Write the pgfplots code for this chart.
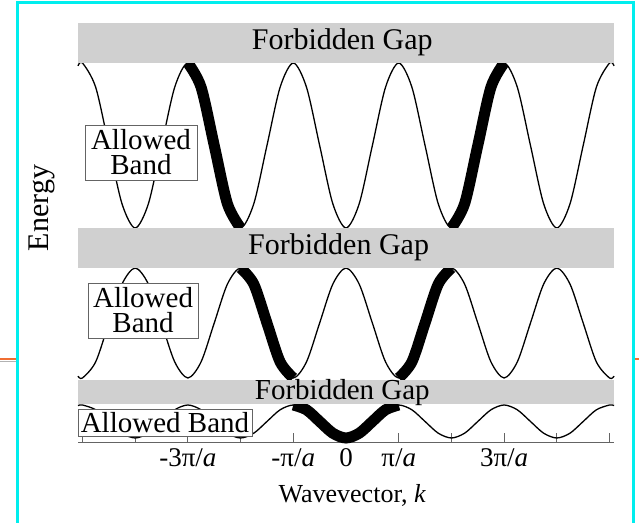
\documentclass[border=0pt]{standalone}
\usepackage{fontspec}
\setmainfont{Liberation Serif}
\usepackage{pgfplots}
\pgfplotsset{compat=1.18}
\definecolor{gapgray}{RGB}{208,208,208}
\definecolor{framecyan}{RGB}{0,238,238}
\definecolor{slideorange}{RGB}{240,110,50}
\definecolor{boxgray}{RGB}{100,100,100}
\begin{document}
\begin{tikzpicture}[x=1bp,y=1bp]
\path[use as bounding box] (0,0) rectangle (639,523);
\draw[framecyan, line width=3bp] (17,-10) -- (17,520) -- (633,520) -- (633,-10);
\draw[slideorange, line width=2bp] (0,164) -- (15.5,164);
\draw[gray!60, line width=1bp] (0,161.5) -- (15.5,161.5);
\draw[slideorange, line width=2bp] (634.5,164) -- (639,164);
\begin{axis}[
  at={(78bp,80bp)}, anchor=south west, scale only axis,
  width=536bp, height=420bp,
  xmin=-5.085, xmax=5.085, ymin=80, ymax=500,
  axis x line*=bottom, axis y line=none,
  clip=false,
  xtick={-5,-4,-3,-2,-1,0,1,2,3,4,5},
  xticklabels={,,-3π/\textit{a},,-π/\textit{a},0,π/\textit{a},,3π/\textit{a},,},
  ytick=\empty,
  tick align=inside,
  major tick length=10bp,
  tick style={boxgray, line width=0.9bp},
  axis line style={boxgray, line width=1bp},
  xticklabel style={font=\fontsize{27bp}{30bp}\selectfont, anchor=base, yshift=-24bp},
]
% thin bands
\addplot[black, line width=1.3bp, smooth] coordinates {(-5.085,457.1) (-5,460) (-4.75,435.8) (-4.5,377.5) (-4.25,319.2) (-4,295) (-3.75,319.2) (-3.5,377.5) (-3.25,435.8) (-3,460) (-2.75,435.8) (-2.5,377.5) (-2.25,319.2) (-2,295) (-1.75,319.2) (-1.5,377.5) (-1.25,435.8) (-1,460) (-0.75,435.8) (-0.5,377.5) (-0.25,319.2) (0,295) (0.25,319.2) (0.5,377.5) (0.75,435.8) (1,460) (1.25,435.8) (1.5,377.5) (1.75,319.2) (2,295) (2.25,319.2) (2.5,377.5) (2.75,435.8) (3,460) (3.25,435.8) (3.5,377.5) (3.75,319.2) (4,295) (4.25,319.2) (4.5,377.5) (4.75,435.8) (5,460) (5.085,457.1)};
\addplot[black, line width=1.3bp, smooth] coordinates {(-5.085,146.9) (-5,145) (-4.75,161.1) (-4.5,200) (-4.25,238.9) (-4,255) (-3.75,238.9) (-3.5,200) (-3.25,161.1) (-3,145) (-2.75,161.1) (-2.5,200) (-2.25,238.9) (-2,255) (-1.75,238.9) (-1.5,200) (-1.25,161.1) (-1,145) (-0.75,161.1) (-0.5,200) (-0.25,238.9) (0,255) (0.25,238.9) (0.5,200) (0.75,161.1) (1,145) (1.25,161.1) (1.5,200) (1.75,238.9) (2,255) (2.25,238.9) (2.5,200) (2.75,161.1) (3,145) (3.25,161.1) (3.5,200) (3.75,238.9) (4,255) (4.25,238.9) (4.5,200) (4.75,161.1) (5,145) (5.085,146.9)};
\addplot[black, line width=1.3bp, smooth] coordinates {(-5.085,117.4) (-5,118) (-4.75,113.2) (-4.5,101.5) (-4.25,89.8) (-4,85) (-3.75,89.8) (-3.5,101.5) (-3.25,113.2) (-3,118) (-2.75,113.2) (-2.5,101.5) (-2.25,89.8) (-2,85) (-1.75,89.8) (-1.5,101.5) (-1.25,113.2) (-1,118) (-0.75,113.2) (-0.5,101.5) (-0.25,89.8) (0,85) (0.25,89.8) (0.5,101.5) (0.75,113.2) (1,118) (1.25,113.2) (1.5,101.5) (1.75,89.8) (2,85) (2.25,89.8) (2.5,101.5) (2.75,113.2) (3,118) (3.25,113.2) (3.5,101.5) (3.75,89.8) (4,85) (4.25,89.8) (4.5,101.5) (4.75,113.2) (5,118) (5.085,117.4)};
% thick extended-zone segments
\addplot[black, line width=11bp, smooth] coordinates {(-3,460) (-2.75,435.8) (-2.5,377.5) (-2.25,319.2) (-2,295)};
\addplot[black, line width=11bp, smooth] coordinates {(2,295) (2.25,319.2) (2.5,377.5) (2.75,435.8) (3,460)};
\addplot[black, line width=11bp, smooth] coordinates {(-2,255) (-1.75,238.9) (-1.5,200) (-1.25,161.1) (-1,145)};
\addplot[black, line width=11bp, smooth] coordinates {(1,145) (1.25,161.1) (1.5,200) (1.75,238.9) (2,255)};
\addplot[black, line width=11bp, smooth] coordinates {(-1,118) (-0.75,113.2) (-0.5,101.5) (-0.25,89.8) (0,85) (0.25,89.8) (0.5,101.5) (0.75,113.2) (1,118)};
% forbidden gaps (drawn over the line ends)
\addplot[fill=gapgray, draw=none] coordinates {(-5.085,460) (5.085,460) (5.085,500) (-5.085,500)} -- cycle;
\addplot[fill=gapgray, draw=none] coordinates {(-5.085,255) (5.085,255) (5.085,295) (-5.085,295)} -- cycle;
\addplot[fill=gapgray, draw=none] coordinates {(-5.085,119) (5.085,119) (5.085,143) (-5.085,143)} -- cycle;
% boxes
\node[draw=boxgray, fill=white, line width=0.9bp, minimum width=112bp, minimum height=55bp, inner sep=0pt, align=center, font=\fontsize{29bp}{25bp}\selectfont] at (axis cs:-3.89,370.5) {Allowed\\Band};
\node[draw=boxgray, fill=white, line width=0.9bp, minimum width=110bp, minimum height=55bp, inner sep=0pt, align=center, font=\fontsize{29bp}{25bp}\selectfont] at (axis cs:-3.85,212.5) {Allowed\\Band};
\node[draw=boxgray, fill=white, line width=0.9bp, minimum width=174bp, minimum height=27bp, inner sep=0pt, font=\fontsize{29bp}{30bp}\selectfont] at (axis cs:-3.435,100.5) {Allowed Band};
% gap labels
\node[anchor=base, font=\fontsize{30bp}{32bp}\selectfont] at (axis cs:-0.07,473) {Forbidden Gap};
\node[anchor=base, font=\fontsize{30bp}{32bp}\selectfont] at (axis cs:-0.14,268) {Forbidden Gap};
\node[anchor=base, font=\fontsize{29bp}{32bp}\selectfont] at (axis cs:-0.07,123) {Forbidden Gap};
% axis labels
\node[rotate=90, font=\fontsize{30bp}{32bp}\selectfont] at (axis cs:-5.77,315) {Energy};
\node[anchor=base, font=\fontsize{26bp}{30bp}\selectfont] at (axis cs:0.12,20) {Wavevector, \textit{k}};
\end{axis}
\end{tikzpicture}
\end{document}
